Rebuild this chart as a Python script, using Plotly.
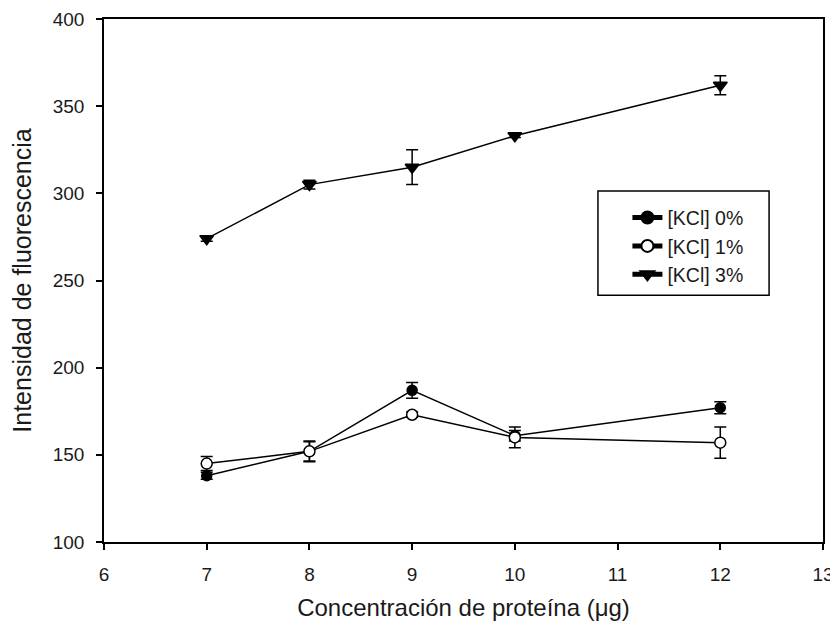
import plotly.graph_objects as go

x_vals = [7, 8, 9, 10, 12]

kcl0 = [138, 152, 187, 161, 177]
kcl0_err = [2, 6, 4.5, 3, 3.5]

kcl1 = [145, 152, 173, 160, 157]
kcl1_err = [4, 5.5, 1.5, 6, 9]

kcl3 = [274, 305, 315, 333, 362]
kcl3_err = [1.5, 2.5, 10, 1, 5.5]

series_names = ["[KCl] 0%", "[KCl] 1%", "[KCl] 3%"]

FONT = "Liberation Sans, Arial, sans-serif"
TXT = "#1a1a1a"

fig = go.Figure()

def add(name, y, err, symbol, fill, size):
    fig.add_trace(go.Scatter(
        x=x_vals, y=y, name=name, mode="lines+markers",
        line=dict(color="black", width=1.5),
        marker=dict(symbol=symbol, size=size, color=fill,
                    line=dict(color="black", width=1.5)),
        error_y=dict(type="data", array=err, visible=True,
                     color="black", thickness=1.5, width=6),
    ))

add(series_names[0], kcl0, kcl0_err, "circle", "black", 10)
add(series_names[1], kcl1, kcl1_err, "circle", "white", 11)
add(series_names[2], kcl3, kcl3_err, "triangle-down", "black", 12)

axis_common = dict(
    showline=True, linecolor="black", linewidth=1.5, mirror=True,
    ticks="outside", ticklen=6, tickwidth=1.5, tickcolor="black",
    showgrid=False, zeroline=False, automargin=False,
    tickfont=dict(family=FONT, size=19, color=TXT),
)

# legend frame (drawn as a box around the legend entries)
fig.add_shape(type="rect", xref="paper", yref="paper",
              x0=0.687, x1=0.925, y0=0.472, y1=0.671,
              line=dict(color="black", width=1.5), layer="above")

fig.update_layout(
    width=830, height=626,
    margin=dict(l=96, r=15, t=11, b=92),
    paper_bgcolor="white", plot_bgcolor="white",
    font=dict(family=FONT, size=19, color=TXT),
    showlegend=True,
    legend=dict(
        x=0.728, y=0.657, xanchor="left", yanchor="top",
        borderwidth=0, bgcolor="rgba(0,0,0,0)",
        font=dict(family=FONT, size=19.5, color=TXT),
        tracegroupgap=0, itemsizing="constant",
    ),
    xaxis=dict(range=[6, 13], dtick=1, tick0=6,
               title=dict(text="Concentración de proteína (μg)",
                          font=dict(family=FONT, size=24, color=TXT),
                          standoff=16),
               ticklabelstandoff=8,
               **axis_common),
    yaxis=dict(range=[100, 400], dtick=50, tick0=100,
               title=dict(text="Intensidad de fluorescencia",
                          font=dict(family=FONT, size=25, color=TXT),
                          standoff=14),
               ticklabelstandoff=8,
               **axis_common),
)

fig.write_html("out.html")
